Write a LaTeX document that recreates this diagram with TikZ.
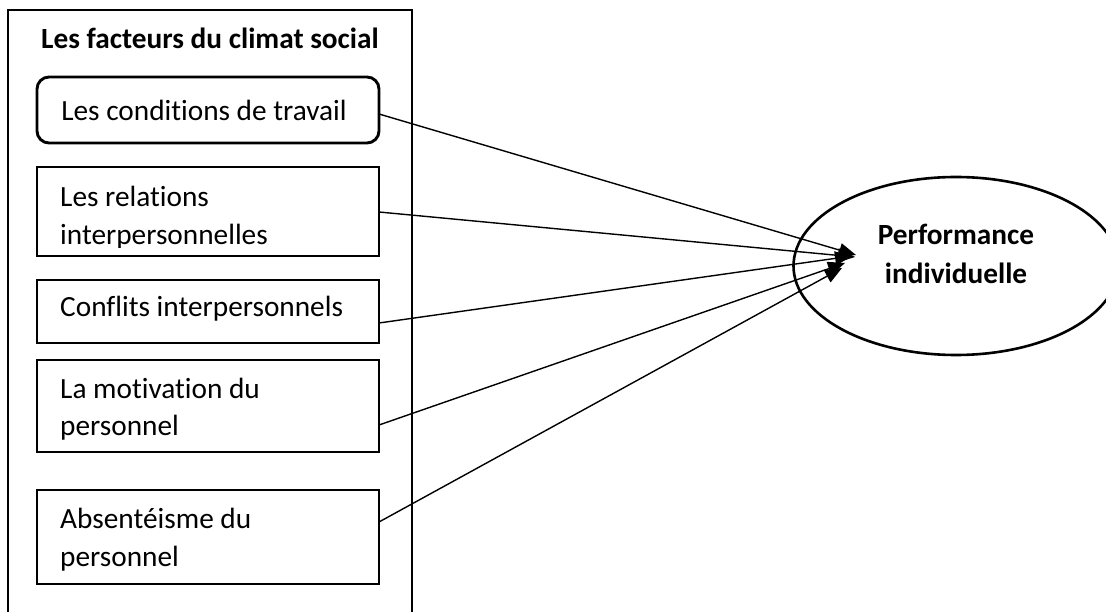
\documentclass[tikz,border=0pt]{standalone}
\usepackage{fontspec}
\setmainfont{Carlito}[Ligatures=NoCommon]
\usetikzlibrary{arrows.meta,shapes.geometric}
\begin{document}
\begin{tikzpicture}[x=1pt,y=-1pt,
  box/.style={draw,line width=2.9pt,inner sep=0pt,outer sep=0pt},
  lbl/.style={anchor=base west,inner sep=0pt,font=\fontsize{29.3}{39}\selectfont},
  lblc/.style={anchor=base,inner sep=0pt,font=\fontsize{29.3}{39}\selectfont},
  bold/.style={anchor=base,inner sep=0pt,font=\fontsize{29.3}{39}\selectfont\bfseries},
  conn/.style={line width=1.4pt,-{Triangle[length=17pt,width=14pt]}},
]
\useasboundingbox (0,0) rectangle (1106,612);
\clip (0,0) rectangle (1106,612);
\fill[white] (0,0) rectangle (1106,612);

% outer frame
\node[box,minimum width=404pt,minimum height=640pt] (outer) at (210,330) {};
\node[bold] (title) at (210,49) {Les facteurs du climat social};

% factor boxes
\node[box,rounded corners=12pt,minimum width=342pt,minimum height=66pt] (b1) at (208,110) {};
\node[box,minimum width=342pt,minimum height=89pt] (b2) at (208,211.5) {};
\node[box,minimum width=342pt,minimum height=63pt] (b3) at (208,311.5) {};
\node[box,minimum width=342pt,minimum height=92pt] (b4) at (208,406) {};
\node[box,minimum width=342pt,minimum height=94pt] (b5) at (208,537) {};

% texts
\node[lblc] (t1) at (204,121) {Les conditions de travail};
\node[lbl] (t2a) at (60,207) {Les relations};
\begin{scope}
  \clip (40,215) rectangle (376,248);
  \node[lbl] (t2b) at (60,245) {interpersonnelles};
\end{scope}
\node[lbl] (t3) at (60,317) {Conflits interpersonnels};
\node[lbl] (t4a) at (60,398) {La motivation du};
\node[lbl] (t4b) at (60,435) {personnel};
\node[lbl] (t5a) at (60,528) {Absentéisme du};
\node[lbl] (t5b) at (60,566) {personnel};

% outcome ellipse
\node[draw,ellipse,line width=2.6pt,minimum width=325pt,minimum height=178pt,inner sep=0pt] (perf) at (956,266) {};
\node[bold] (p1) at (956,245) {Performance};
\node[bold] (p2) at (956,284) {individuelle};

% arrow tips
\coordinate (a1) at (856,255);
\coordinate (a2) at (855,257);
\coordinate (a3) at (852,256);
\coordinate (a4) at (845,263);
\coordinate (a5) at (842,268);

\draw[conn] ([yshift=-4pt]b1.east) -- (a1);
\draw[conn] ([yshift=-0.5pt]b2.east) -- (a2);
\draw[conn] ([yshift=-11.5pt]b3.east) -- (a3);
\draw[conn] ([yshift=-19pt]b4.east) -- (a4);
\draw[conn] ([yshift=15pt]b5.east) -- (a5);
\end{tikzpicture}
\end{document}
